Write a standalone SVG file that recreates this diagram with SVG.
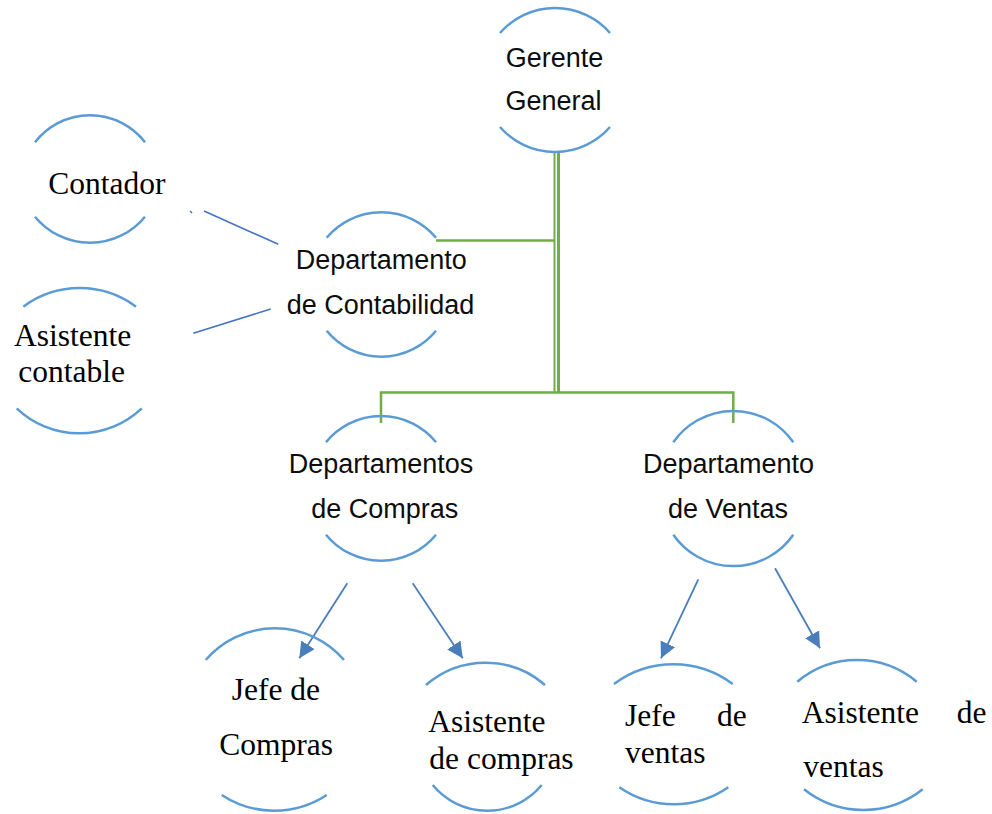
<svg xmlns="http://www.w3.org/2000/svg" width="992" height="814" viewBox="0 0 992 814">
<style>
.arc{fill:none;stroke:#5B9BD5;stroke-width:2.5}
.sans{font-family:"Liberation Sans",Arial,sans-serif;font-size:27px;fill:#0d0d0d;text-anchor:middle}
.serif{font-family:"Liberation Serif","Times New Roman",serif;font-size:31.5px;fill:#000}
.green{fill:none;stroke:#70AD47}
.blue{fill:none;stroke:#4472C4;stroke-width:1.5}
.arrow{fill:none;stroke:#4A7EBB;stroke-width:1.8}
</style>
<defs>
<marker id="ah" markerUnits="userSpaceOnUse" markerWidth="18" markerHeight="18" refX="16" refY="8" orient="auto">
<path d="M0,0 L16,8 L0,16 z" fill="#4A7EBB"/>
</marker>
</defs>
<rect width="992" height="814" fill="#fff"/>
<g id="connectors">
<line class="green" x1="554.5" y1="152" x2="554.5" y2="392" stroke-width="2"/>
<line class="green" x1="558.5" y1="152" x2="558.5" y2="392" stroke-width="3"/>
<line class="green" x1="436" y1="240.5" x2="555" y2="240.5" stroke-width="2.5"/>
<polyline class="green" points="381,423 381,392.5 733.3,392.5 733.3,423" stroke-width="2.5"/>
<line class="blue" x1="204" y1="211" x2="278.3" y2="244.3"/>
<line class="blue" x1="190" y1="211" x2="192" y2="213" stroke-width="2"/>
<line class="blue" x1="193.3" y1="333.3" x2="270.7" y2="309"/>
<line class="arrow" x1="347.3" y1="583.3" x2="299.3" y2="658.3" marker-end="url(#ah)"/>
<line class="arrow" x1="412.7" y1="583.3" x2="462.7" y2="658.3" marker-end="url(#ah)"/>
<line class="arrow" x1="698.3" y1="579.3" x2="661" y2="658.3" marker-end="url(#ah)"/>
<line class="arrow" x1="775" y1="568.3" x2="820" y2="648.3" marker-end="url(#ah)"/>
</g>
<g id="gerente">
<path class="arc" d="M500,33 A73,73 0 0 1 610,33"/>
<path class="arc" d="M500,127 A73,73 0 0 0 610,127"/>
<text class="sans" x="554.5" y="66.7">Gerente</text>
<text class="sans" x="553.5" y="110">General</text>
</g>
<g id="contador">
<path class="arc" d="M35,142.3 A69.5,69.5 0 0 1 145,142.3"/>
<path class="arc" d="M35,216.7 A71,71 0 0 0 145,216.7"/>
<text class="serif" x="48.3" y="194.3">Contador</text>
</g>
<g id="asistente-contable">
<path class="arc" d="M23.3,306.7 A94.7,94.7 0 0 1 136,306.7"/>
<path class="arc" d="M16.7,408.3 A90.6,90.6 0 0 0 141.7,408.3"/>
<text class="serif" x="14" y="345.7">Asistente</text>
<text class="serif" x="18.3" y="381.7">contable</text>
</g>
<g id="dep-contabilidad">
<path class="arc" d="M326.7,237.7 A71.6,71.6 0 0 1 436,237.7"/>
<path class="arc" d="M326.7,330.7 A70.5,70.5 0 0 0 436,330.7"/>
<text class="sans" x="381.3" y="269.3">Departamento</text>
<text class="sans" x="380.5" y="314.3">de Contabilidad</text>
</g>
<g id="dep-compras">
<path class="arc" d="M326,442.3 A70.7,70.7 0 0 1 436,442.3"/>
<path class="arc" d="M326,534.7 A71,71 0 0 0 436,534.7"/>
<text class="sans" x="381" y="473.3">Departamentos</text>
<text class="sans" x="384.7" y="518.3">de Compras</text>
</g>
<g id="dep-ventas">
<path class="arc" d="M673.3,442.3 A73,73 0 0 1 793.3,442.3"/>
<path class="arc" d="M673.3,534.7 A73,73 0 0 0 793.3,534.7"/>
<text class="sans" x="728.5" y="473.3">Departamento</text>
<text class="sans" x="728" y="518.3">de Ventas</text>
</g>
<g id="jefe-compras">
<path class="arc" d="M205.7,660 A91.3,91.3 0 0 1 344,660"/>
<path class="arc" d="M221.7,795 A95.6,95.6 0 0 0 326.7,795"/>
<text class="serif" x="231.7" y="700">Jefe de</text>
<text class="serif" x="219.3" y="755">Compras</text>
</g>
<g id="asistente-compras">
<path class="arc" d="M426,685 A90.5,90.5 0 0 1 545,685"/>
<path class="arc" d="M432.7,785 A70.6,70.6 0 0 0 541.7,785"/>
<text class="serif" x="428.3" y="732.3">Asistente</text>
<text class="serif" x="429.3" y="769">de compras</text>
</g>
<g id="jefe-ventas">
<path class="arc" d="M614,684 A99.2,99.2 0 0 1 732.7,684"/>
<path class="arc" d="M619.3,787.3 A95.9,95.9 0 0 0 728.3,787.3"/>
<text class="serif" x="625" y="726">Jefe</text>
<text class="serif" x="746.7" y="726" text-anchor="end">de</text>
<text class="serif" x="625" y="763.3">ventas</text>
</g>
<g id="asistente-ventas">
<path class="arc" d="M797.3,681.7 A93,93 0 0 1 916.7,681.7"/>
<path class="arc" d="M804,789.3 A95.4,95.4 0 0 0 922.7,789.3"/>
<text class="serif" x="801.7" y="722.7">Asistente</text>
<text class="serif" x="956.7" y="722.7">de</text>
<text class="serif" x="803.3" y="777.3">ventas</text>
</g>
</svg>
